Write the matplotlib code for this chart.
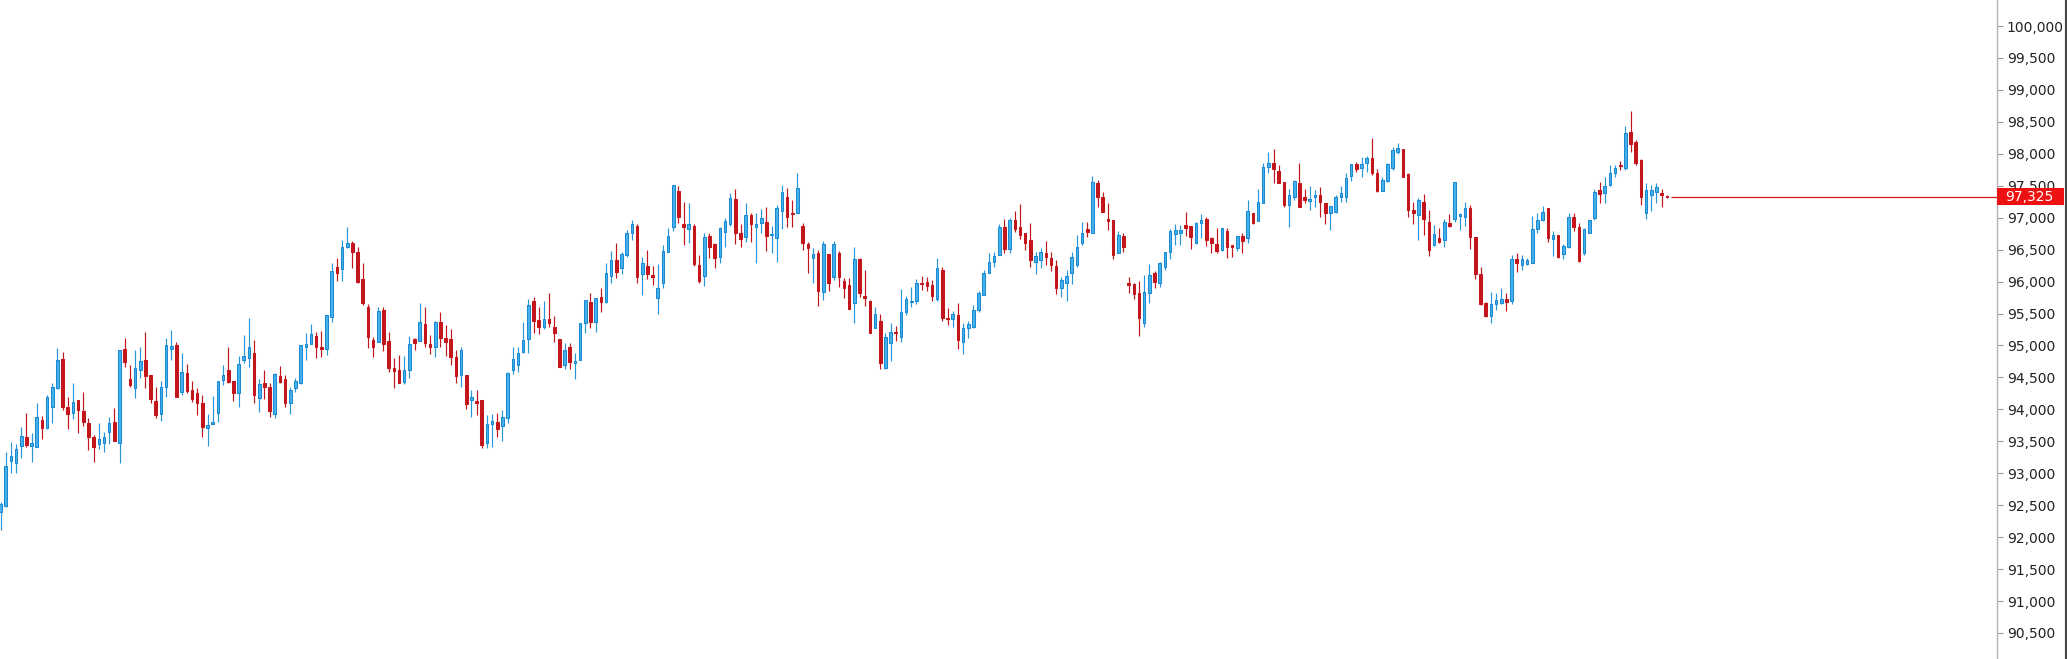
import matplotlib
matplotlib.use("Agg")
import matplotlib.pyplot as plt
import matplotlib.transforms as mtransforms
from matplotlib.ticker import FuncFormatter
from matplotlib.patches import Rectangle
from matplotlib.lines import Line2D

# ---------------- data ----------------
opens = [92399,92488,93197,93166,93427,93568,93432,93417,93829,93714,94032,94329,94783,94032,93938,94147,93969,93782,93563,93453,
93479,93651,93797,93469,94940,94470,94329,94616,94773,94538,94131,93922,94345,94945,95008,94277,94564,94303,94251,94095,
93703,93771,93938,94460,94616,94444,94262,94773,94799,94877,94173,94408,94345,93922,94522,94470,94095,94329,94418,94981,
95023,95149,94981,94940,95451,96234,96192,96536,96599,96468,96036,95597,95086,95060,95555,95070,94643,94616,94434,94616,
95096,95076,95336,95023,94971,95362,95112,95096,94825,94538,94538,94147,94136,94147,93468,93766,93797,93740,93860,94616,
94694,94892,95096,95696,95398,95284,95409,95294,95096,94694,94981,94731,94773,95346,95685,95373,95753,95685,96087,96337,
96207,96416,96765,96869,96118,96249,96103,95738,95972,96468,96848,97423,96901,96817,96869,96259,96087,96713,96588,96379,
96781,96901,97287,96755,96692,97042,96859,96921,96938,96734,96677,97110,97328,97068,97068,96869,96588,96363,96442,95842,
96431,96077,96452,96014,95946,95670,96348,95774,95696,95268,95383,94642,95044,95216,95127,95529,95675,95701,95977,95993,
95946,95722,96181,95425,95409,95477,95060,95268,95284,95555,95790,96128,96311,96410,96848,96504,96963,96848,96755,96650,
96311,96337,96442,96364,96244,95894,95983,96139,96259,96598,96817,96765,97537,97328,96974,96963,96452,96713,95983,95962,
95826,95357,95816,96139,95972,96223,96468,96744,96765,96885,96869,96598,96922,96974,96677,96588,96494,96797,96572,96520,
96713,96677,97068,96953,97235,97788,97861,97731,97564,97198,97319,97548,97319,97266,97329,97355,97225,97079,97094,97329,
97329,97653,97840,97772,97851,97929,97705,97418,97580,97772,98023,98070,97684,97120,97042,97251,96938,96572,96677,96651,
96922,96974,97026,97006,97146,96693,96119,95659,95461,95649,95670,95722,95700,96348,96259,96275,96296,96817,96963,97146,
96661,96729,96431,96546,97016,96849,96442,96765,96990,97433,97391,97511,97704,97824,97772,98346,98190,97903,97078,97355,
97407,97381,97339]
highs = [92556,93328,93495,93458,93730,93938,93625,94105,93896,94225,94408,94955,94903,94189,94408,94147,94267,93860,93599,93792,
93651,93886,94017,94929,95112,94695,94929,94981,95216,94538,94345,94444,95112,95243,95060,94877,94710,94444,94329,94225,
93928,94209,94444,94695,94981,94444,94835,95164,95425,95086,94470,94616,94418,94575,94679,94538,94345,94486,95008,95190,
95336,95216,95227,95477,96286,96364,96651,96860,96641,96536,96286,95649,95138,95597,95597,95206,94799,94851,94835,95149,
95112,95660,95597,95164,95388,95519,95321,95253,94929,94971,94538,94303,94303,94147,93912,93927,93938,93990,94590,94971,
94971,95372,95722,95753,95597,95701,95826,95461,95096,95034,95034,94877,95346,95712,95816,95738,95894,96285,96484,96598,
96468,96807,96963,96901,96390,96494,96243,96275,96572,96833,97511,97496,97250,97235,96901,96416,96755,96755,96598,96848,
96990,97391,97443,96901,97235,97078,97068,97130,97161,96869,97198,97511,97459,97276,97694,96922,96625,96520,96494,96640,
96431,96640,96484,96050,96050,96546,96363,96181,95711,95607,95492,95200,95346,95305,95879,95774,95920,96035,96087,96077,
96024,96364,96233,95581,95544,95670,95346,95388,95633,95858,96181,96442,96468,96901,96974,96990,97110,97214,96755,96921,
96468,96520,96640,96468,96337,96066,96181,96468,96728,96937,96937,97652,97590,97407,97235,96963,96796,96765,96077,95983,
96014,96103,96275,96171,96311,96468,96817,96901,96885,97094,96869,96937,97057,97016,96692,96833,96833,96833,96572,96713,
96765,97277,97078,97444,97861,98033,98070,97825,97564,97444,97590,97861,97444,97496,97433,97475,97225,97183,97355,97496,
97705,97840,97877,97955,97965,98242,97757,97632,97861,98101,98174,98070,97705,97251,97303,97371,97120,96885,96833,96974,
97058,97564,97079,97251,97199,96693,96233,95686,95842,95827,95894,95827,96416,96442,96416,96364,97026,97068,97183,97146,
96797,96729,96588,97078,97078,96911,96833,96963,97444,97563,97631,97824,97824,97892,98435,98675,98216,97913,97548,97511,
97548,97444,97350]
lows = [92112,92467,92999,92999,93234,93406,93182,93417,93531,93688,93792,94314,93990,93688,93844,93625,93740,93364,93182,93375,
93338,93458,93510,93166,94669,94356,94173,94486,94329,94095,93860,93823,94189,94773,94189,94225,94262,94121,93912,93563,
93427,93771,93808,94382,94418,94137,94032,94720,94658,94105,93964,94157,93876,93860,94408,94032,93928,94277,94397,94773,
95023,94799,94815,94851,95373,96015,96015,96520,96208,95973,95634,94955,94825,95060,94919,94590,94329,94418,94397,94486,
94929,95076,94981,94867,94825,94981,94840,94695,94408,94345,93999,93886,93912,93390,93390,93406,93572,93510,93792,94553,
94590,94887,94877,95190,95180,95253,95294,95060,94658,94626,94626,94470,94773,95200,95268,95216,95529,95659,95972,96050,
96118,96390,96650,95982,95790,96035,95946,95492,95894,96468,96796,96922,96572,96609,96243,95982,95930,96364,96207,96285,
96546,96869,96588,96536,96624,96624,96296,96755,96484,96452,96311,96817,96848,96848,97068,96494,96139,95983,95617,95711,
95857,96024,95920,95738,95565,95357,95764,95617,95190,95268,94626,94626,94762,95075,95060,95477,95607,95649,95868,95857,
95701,95701,95388,95320,95294,94940,94867,95112,95268,95529,95790,96128,96233,96410,96442,96442,96781,96661,96494,96233,
96118,96207,96259,96170,95805,95764,95701,95962,96233,96572,96703,96755,97172,97094,96807,96348,96452,96468,95821,95722,
95148,95284,95659,95894,95920,96181,96348,96572,96572,96713,96504,96588,96677,96557,96452,96452,96484,96364,96390,96484,
96452,96609,96901,96953,97235,97694,97548,97538,97162,96860,97277,97172,97225,97120,97162,97006,96901,96807,97068,97251,
97251,97580,97720,97632,97720,97668,97407,97418,97564,97746,97997,97632,97016,96901,96651,96729,96400,96557,96598,96536,
96859,96938,96807,96870,96505,96035,95634,95440,95357,95555,95649,95545,95650,96150,96181,96259,96296,96755,96953,96625,
96400,96364,96348,96520,96797,96311,96416,96765,96963,97235,97224,97496,97631,97746,97746,98033,97824,97198,96974,97110,
97224,97172,97303]
closes = [92519,93114,93270,93380,93584,93448,93474,93876,93703,94194,94345,94773,94043,93922,94121,93990,93808,93573,93406,93531,
93563,93792,93510,94929,94747,94382,94643,94757,94528,94157,93912,94345,95008,94992,94189,94590,94293,94163,94095,93730,
93756,93808,94444,94538,94434,94262,94710,94835,94981,94225,94397,94356,93980,94554,94434,94105,94303,94444,95008,95023,
95175,94971,94940,95477,96166,96140,96536,96599,96468,96000,95670,95138,94971,95540,95023,94643,94606,94418,94616,95023,
95044,95362,95044,94971,95362,95112,95060,94815,94522,94929,94079,94199,94095,93442,93771,93818,93687,93875,94574,94783,
94877,95086,95633,95388,95284,95409,95346,95200,94658,94929,94736,94757,95346,95712,95373,95738,95685,96139,96337,96155,
96431,96765,96901,96066,96285,96118,96066,95894,96478,96713,97511,97005,96848,96901,96275,96014,96692,96546,96364,96833,
96953,97302,96755,96661,97042,96901,96901,96990,96713,96750,97146,97407,97016,97052,97459,96598,96520,96431,95857,96588,
95983,96588,96077,95894,95565,96348,95816,95748,95200,95492,94720,95127,95216,95190,95529,95722,95696,95983,95962,95930,
95774,96207,95425,95409,95492,95086,95268,95336,95555,95816,96139,96311,96400,96848,96504,96963,96817,96728,96598,96337,
96400,96468,96379,96259,95894,96024,96087,96379,96536,96755,96781,97563,97328,97094,96948,96416,96729,96535,95946,95805,
95425,95842,96103,95999,96285,96468,96796,96807,96807,96833,96692,96922,96963,96650,96599,96484,96833,96536,96536,96713,
96640,97110,96922,97251,97799,97861,97757,97538,97198,97355,97574,97172,97277,97287,97355,97251,97079,97183,97329,97381,
97616,97840,97757,97840,97929,97705,97423,97590,97840,98059,98085,97632,97120,97068,97277,96974,96494,96744,96624,96938,
96870,97564,97058,97146,96703,96119,95649,95461,95649,95712,95722,95686,96348,96296,96348,96338,96817,96963,97094,96677,
96729,96390,96557,97016,96849,96327,96817,96963,97407,97370,97496,97704,97772,97809,98330,98153,97861,97318,97433,97433,
97485,97355,97325]

last_price = 97325
y_ticks = list(range(90500, 100001, 500))
top_partial_tick = 100500

# ---------------- style ----------------
BLUE_EDGE = "#1c88d2"
BLUE_FACE = "#46b2ec"
BLUE_WICK = "#2596dc"
RED = "#c3161c"
W, H, DPI = 2067, 659, 100
AX_RIGHT_PX = 1997

fig = plt.figure(figsize=(W / DPI, H / DPI), dpi=DPI, facecolor="white")
ax = fig.add_axes([0, 0, AX_RIGHT_PX / W, 1])
ax.set_facecolor("white")

n = len(closes)
xs = list(range(n))
up = [c >= o for o, c in zip(opens, closes)]

wick_cols = [BLUE_WICK if u else RED for u in up]
ax.vlines(xs, lows, highs, colors=wick_cols, linewidth=0.85, zorder=2)

bottoms = [min(o, c) for o, c in zip(opens, closes)]
heights = [max(abs(c - o), 18) for o, c in zip(opens, closes)]
faces = [BLUE_FACE if u else RED for u in up]
edges = [BLUE_EDGE if u else RED for u in up]
ax.bar(xs, heights, bottom=bottoms, width=0.5, color=faces, edgecolor=edges,
       linewidth=0.75, zorder=3)

# last price line
xmax = 385.8
ax.hlines(last_price, n - 1 + 0.8, xmax, colors="#d0141a", linewidth=0.9, zorder=2)

ax.set_xlim(-0.1, xmax)
ax.set_ylim(90093, 100407)

for s in ["left", "top", "bottom"]:
    ax.spines[s].set_visible(False)
ax.spines["right"].set_color("#b4b4b4")
ax.spines["right"].set_linewidth(1.0)
ax.set_xticks([])
ax.yaxis.tick_right()
ax.set_yticks(y_ticks)
ax.yaxis.set_major_formatter(FuncFormatter(lambda v, p: f"{int(v):,}"))
ax.tick_params(axis="y", direction="out", length=4, width=0.8, color="#9a9a9a",
               pad=3, labelsize=10, labelcolor="#222222")

# partially visible top label
trans = mtransforms.blended_transform_factory(ax.transAxes, ax.transData)
off = mtransforms.offset_copy(trans, fig=fig, x=7.5, y=0, units="dots")
ax.text(1.0, top_partial_tick, f"{top_partial_tick:,}", transform=off, ha="left", va="center",
        fontsize=10, color="#222222", clip_on=False)

# red last-price label box
y_px = ax.transData.transform((0, last_price))[1]
box_h = 17
fig.patches.append(Rectangle((AX_RIGHT_PX / W, (y_px - box_h / 2) / H), (2064 - AX_RIGHT_PX) / W, box_h / H,
                             transform=fig.transFigure, facecolor="#ee1111", edgecolor="none", zorder=4))
fig.text((AX_RIGHT_PX + 8) / W, y_px / H, f"{last_price:,}", color="white", fontsize=10,
         ha="left", va="center", zorder=5)

# right border line
fig.lines.append(Line2D([2065.5 / W, 2065.5 / W], [0, 1], transform=fig.transFigure,
                        color="#444444", linewidth=1.5, zorder=5))

fig.savefig("out.png", dpi=DPI, facecolor="white")
